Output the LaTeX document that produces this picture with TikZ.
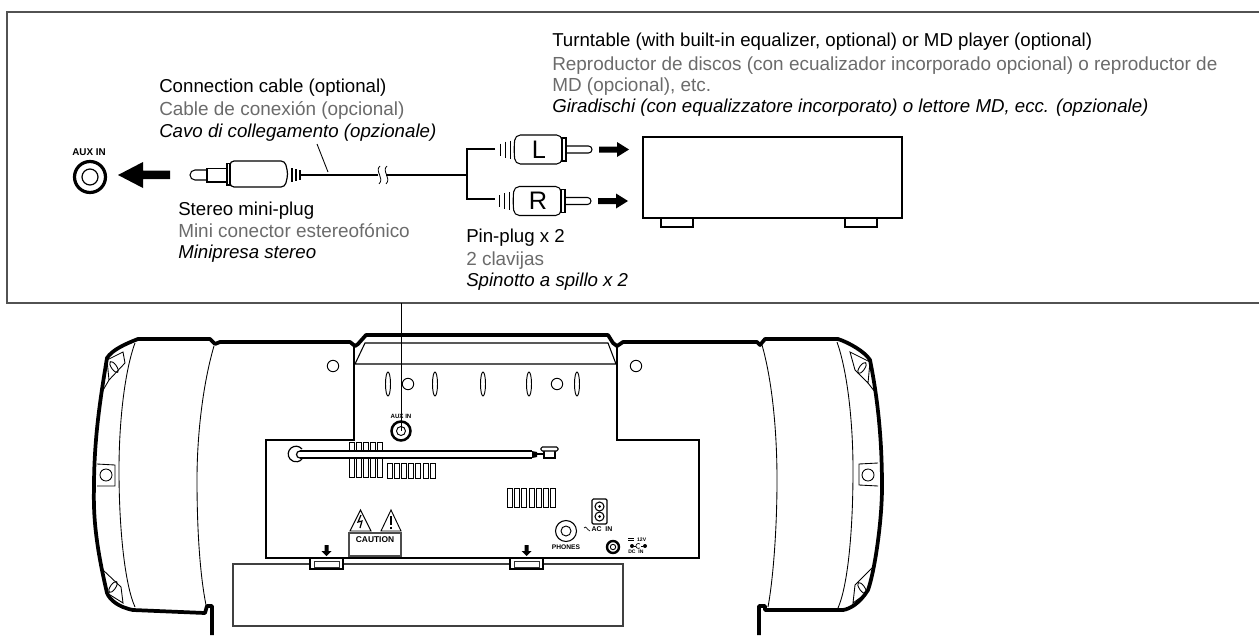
\documentclass[tikz,border=0pt]{standalone}
\usepackage{fontspec}
\setmainfont{Liberation Sans}
\usetikzlibrary{arrows.meta}
\newcommand{\fs}[1]{\fontsize{#1}{#1}\selectfont}
\tikzset{
  x=0.75pt,y=-0.75pt,
  en/.style={anchor=base west,inner sep=0,font=\fs{14}},
  es/.style={anchor=base west,inner sep=0,font=\fs{14.2},text=black!58},
  it/.style={en,font=\fs{14}\itshape},
  small/.style={inner sep=0,font=\fs{#1}\bfseries},
  small/.default=5,
  thin line/.style={line width=0.65pt},
  mid line/.style={line width=1.1pt,black!68},
  thick body/.style={line width=2.8pt,line join=round},
}
\begin{document}
\begin{tikzpicture}[line cap=butt]
\useasboundingbox (0,0) rectangle (1259,635);
% frame
\draw[mid line] (1259,12) -- (7,12) -- (7,303) -- (1259,303);
% labels
\node[en] (t1) at (552,47) {Turntable (with built-in equalizer, optional) or MD player (optional)};
\node[es] (t2) at (552,70) {Reproductor de discos (con ecualizador incorporado opcional) o reproductor de};
\node[es] (t3) at (552,92) {MD (opcional), etc.};
\node[it] (t4) at (552,113) {Giradischi (con equalizzatore incorporato) o lettore MD, ecc. (opzionale)};
\node[en] (c1) at (159,93) {Connection cable (optional)};
\node[es] (c2) at (159,115) {Cable de conexión (opcional)};
\node[it] (c3) at (159,137) {Cavo di collegamento (opzionale)};
\node[en] (s1) at (178,215) {Stereo mini-plug};
\node[es] (s2) at (178,237) {Mini conector estereofónico};
\node[it] (s3) at (178,258) {Minipresa stereo};
\node[en] (p1) at (466,242) {Pin-plug x 2};
\node[es] (p2) at (466,265) {2 clavijas};
\node[it] (p3) at (466,286) {Spinotto a spillo x 2};
% AUX jack top
\node[small=7.4] (auxa) at (89,152) {AUX IN};
\draw[line width=2.4pt] (90,177) circle (15.5);
\draw[line width=0.9pt] (90,177) circle (8);
\fill (118,175) -- (143,162) -- (143,170.5) -- (170,170.5) -- (170,179) -- (143,179) -- (143,188) -- cycle;
% mini plug
\draw[line width=0.8pt] (207,170) -- (195,170) arc[start angle=-90,end angle=-270,radius=5] -- (207,180);
\draw[line width=0.8pt] (207,168.5) rectangle (227,182);
\draw[line width=0.8pt] (227,163.5) rectangle (230,185);
\draw[line width=0.9pt,rounded corners=3pt] (230,161) -- (285,161) -- (288,174) -- (285,187) -- (230,187) -- cycle;
\foreach \x/\h in {292/7,296/6,300/5}\draw[line width=0.8pt] (\x,175-\h) -- (\x,175+\h);
\coordinate (cabA) at (300,175);
\coordinate (cabB) at (378,175);
\coordinate (cabC) at (386,175);
\coordinate (cabD) at (467,175);
\draw[line width=1.9pt] (cabA) -- (cabB);
\draw[line width=1.9pt] (cabC) -- (cabD);
\draw[line width=0.6pt] (380,166) .. controls (374,171) and (385,178) .. (379,184);
\draw[line width=0.6pt] (387,166) .. controls (381,171) and (392,178) .. (386,184);
\coordinate (leadA) at (317,144);
\coordinate (leadB) at (328,172);
\draw[thin line] (leadA) -- (leadB);
% Y split
\draw[line width=1.9pt] (495,149) -- (467,149) -- (467,199) -- (495,199);
% pin plugs
\foreach \yy/\lab/\dx in {149.5/L/0,201/R/-1}{
  \begin{scope}[shift={(\dx,\yy)}]
    \foreach \x/\h in {500/6,505/8,510/9}\draw[line width=0.7pt] (\x,-\h) -- (\x,\h);
    \draw[line width=0.8pt,rounded corners=4pt] (515,-14.5) -- (562,-14.5) -- (562,14.5) -- (515,14.5) -- (514,0) -- cycle;
    \draw[line width=0.8pt] (562,-11.5) rectangle (566,11.5);
    \draw[line width=0.8pt] (566,-3.5) -- (588.5,-3.5) arc[start angle=-90,end angle=90,radius=3.5] -- (566,3.5);
    \node[inner sep=0,font=\fs{19}] at (539,0) {\lab};
    \fill (599,-3) -- (617,-3) -- (617,-7.5) -- (629,0) -- (617,7.5) -- (617,3) -- (599,3) -- cycle;
  \end{scope}}
% box
\draw[line width=0.9pt] (643,137) rectangle (902,218);
\draw[line width=0.8pt] (661,218) rectangle (693,227);
\draw[line width=0.8pt] (845,218) rectangle (877,227);
% --- boombox ---
\draw[thick body] (212,635) -- (212,606) -- (207,606) -- (205,613) -- (133,610)
  .. controls (118,607) and (110,600) .. (107,593)
  .. controls (97,550) and (93,520) .. (94,487)
  .. controls (94,440) and (100,400) .. (107,358)
  .. controls (112,350) and (125,344) .. (138,339) -- (210,339) -- (215,344) -- (220,342) -- (350,342)
  -- (355,346) -- (358,344) -- (366,335) -- (608,335) -- (613,343) -- (617,346) -- (623,342) -- (757,342)
  -- (760,345) -- (765,339) -- (838,339)
  .. controls (850,343) and (865,352) .. (870,360)
  .. controls (878,400) and (882,440) .. (882,487)
  .. controls (882,520) and (875,570) .. (868,590)
  .. controls (860,603) and (850,609) .. (843,610) -- (765,610) -- (765,606) -- (759,606) -- (759,635);
\draw[thin line] (214,346) .. controls (204,380) and (197,430) .. (197,480) .. controls (197,530) and (200,575) .. (206,605);
\draw[thin line] (135,343) .. controls (125,370) and (119,420) .. (119,470) .. controls (119,530) and (125,585) .. (135,607);
\draw[thin line] (762,345) .. controls (772,380) and (777,430) .. (777,480) .. controls (777,530) and (773,580) .. (768,607);
\draw[thin line] (837,342) .. controls (847,370) and (853,420) .. (853,470) .. controls (853,530) and (848,585) .. (838,608);
% corner ornaments left
\draw[thin line] (107,360) -- (123,352) -- (125,363) -- (109,380) -- (102,392);
\draw[thin line] (107,360) -- (109,380);
\draw[thin line] (114,367) ellipse[x radius=2.6, y radius=6.5, rotate=35];
\draw[thin line] (103,570) -- (121,587) -- (123,603) -- (107,593) -- (104,576);
\draw[thin line] (113,587) ellipse[x radius=2.6, y radius=6.5, rotate=-35];
\draw[thin line] (97,464) -- (115,465) -- (115,486) -- (97,486);
\draw[thin line] (106,475) circle (6);
% corner ornaments right
\draw[thin line] (850,352) -- (870,362) -- (868,383) -- (855,370) -- cycle;
\draw[thin line] (868,383) -- (875,392);
\draw[thin line] (862,368) ellipse[x radius=2.6, y radius=6.5, rotate=-35];
\draw[thin line] (872,568) -- (855,585) -- (853,603) -- (868,592);
\draw[thin line] (862,588) ellipse[x radius=2.6, y radius=6.5, rotate=35];
\draw[thin line] (878,463) -- (859,464) -- (859,485) -- (878,486);
\draw[thin line] (868,475) circle (6);
% panel
\draw[line width=0.8pt] (354,346) -- (354,440) -- (266,440) -- (266,558) -- (699,558) -- (699,440) -- (617,440) -- (617,346);
\draw[line width=0.8pt] (355,364) -- (616,364) -- (608,343) -- (365,343) -- cycle;
\foreach \c in {(333,366),(636,366),(408,384),(557,384)}\draw[line width=0.7pt] \c circle (5.7);
\foreach \x in {388,435,483,529,577}\draw[line width=0.7pt] (\x,384) ellipse[x radius=2.5,y radius=12];
% leader to AUX
\node[small=4.6] (auxb) at (401,416) {AUX IN};
\draw[line width=1.9pt] (401,431) circle (9.5);
\draw[line width=0.7pt] (401,431) circle (4.5);
\coordinate (frameB) at (401.5,303);
\coordinate (auxc) at (401.5,431);
\draw[line width=0.8pt] (frameB) -- (auxc);
% grills
\foreach \i in {0,...,4}{
  \pgfmathsetmacro\xa{349.5+7.1*\i}
  \draw[line width=0.7pt] (\xa,451) -- (\xa,442) -- (\xa+5,442) -- (\xa+5,451);
  \draw[line width=0.7pt] (\xa,458) -- (\xa,477) -- (\xa+5,477) -- (\xa+5,458);
}
\foreach \i in {0,...,6}{
  \pgfmathsetmacro\xa{387+7.2*\i}
  \draw[line width=0.7pt] (\xa,463) rectangle (\xa+5,478);
  \pgfmathsetmacro\xb{507.5+7.2*\i}
  \draw[line width=0.7pt] (\xb,488) rectangle (\xb+5,507);
}
% antenna
\draw[line width=0.9pt] (300,451) -- (532,451) (300,458) -- (532,458);
\draw[line width=0.9pt] (302,449) arc[start angle=-40,end angle=-320,radius=7.8];
\draw[line width=0.9pt] (300,451) arc[start angle=-90,end angle=-270,radius=3.5];
\fill (532,451) -- (537,452) -- (537,457) -- (532,458) -- cycle;
\draw[line width=0.8pt] (537,454) -- (544,454) (544,449) -- (555,449) -- (555,458) -- (544,458) -- cycle;
\draw[line width=0.8pt,fill=white,rounded corners=1pt] (541,447) rectangle (558,451);
% triangles
\draw[line width=0.7pt] (350,531) -- (360.5,510) -- (371,531) -- cycle;
\draw[line width=0.9pt] (361,515) -- (358,522) -- (362,521) -- (360,528);
\draw[line width=0.7pt] (381,531) -- (391,510) -- (401,531) -- cycle;
\draw[line width=1.2pt] (391,516) -- (391,525) (391,526.5) -- (391,528.5);
\draw[line width=0.9pt,black!70] (349,533) rectangle (401,556);
\node[small=6.3] (caut) at (375,539.5) {CAUTION};
% phones, AC, DC
\draw[line width=0.8pt] (566,531) circle (10.5);
\draw[line width=0.7pt] (566,531) circle (5);
\node[small=5] (ph) at (566,547) {PHONES};
\draw[line width=0.9pt,rounded corners=1pt] (592,499) rectangle (607,524);
\draw[line width=0.8pt] (599.5,506.5) circle (4.5);
\draw[line width=0.8pt] (599.5,516.5) circle (4.5);
\fill (599.5,506.5) circle (1.5) (599.5,516.5) circle (1.5);
\draw[line width=0.5pt] (584,528) .. controls (586,525) and (587,530) .. (590,531);
\node[small=5.2] (ac) at (602,529.5) {AC\ \ IN};
\draw[line width=1.8pt] (613,547) circle (6);
\draw[line width=0.7pt] (613,547) circle (2.7);
\node[small=3.8,anchor=west] (v12) at (628,539.5) {\phantom{===}12V};
\draw[line width=0.5pt] (628,538.5) -- (634,538.5) (628,540) -- (634,540);
\node[small=3.8,anchor=west] (dcin) at (628,552) {DC\ \ IN};
\fill (632,546) circle (2) (645,546) circle (2);
\draw[line width=0.5pt] (634,546) -- (636,546) (641,546) -- (643,546);
\draw[line width=0.5pt] (640,544) arc[start angle=-50,end angle=-310,radius=2.5];
% cover
\draw[line width=0.9pt,black!75] (343,564) -- (510,564) (543,564) -- (623,564) -- (623,626) -- (233,626) -- (233,564) -- (310,564);
\foreach \x in {310,510}{
  \draw[line width=0.8pt] (\x,558) rectangle (\x+33,569);
  \draw[line width=0.7pt,black!80] (\x+4,561) rectangle (\x+29,567);
  \fill (\x+14.5,545) rectangle (\x+18.5,551) (\x+11.5,551) -- (\x+21.5,551) -- (\x+16.5,556) -- cycle;
}
\end{tikzpicture}
\end{document}
